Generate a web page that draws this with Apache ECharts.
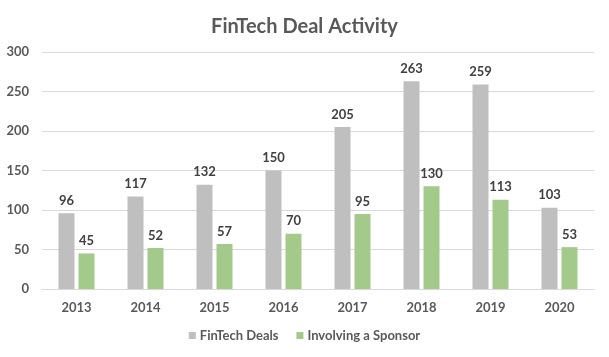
<!DOCTYPE html>
<html><head><meta charset="utf-8">
<script src="https://cdn.jsdelivr.net/npm/echarts@6/dist/echarts.min.js"></script>
<style>html,body{margin:0;padding:0;background:#fff}#c{width:609px;height:357px}</style>
</head><body><div id="c"></div>
<script>
const categories = ['2013','2014','2015','2016','2017','2018','2019','2020'];
const fintechDeals = [96,117,132,150,205,263,259,103];
const involvingSponsor = [45,52,57,70,95,130,113,53];
const seriesNames = ['FinTech Deals','Involving a Sponsor'];

const font = 'Lato, "Open Sans", sans-serif';
const chart = echarts.init(document.getElementById('c'));
const lbl = {show:true, position:'top', distance:6, color:'#404040', fontWeight:'bold', fontSize:13, fontFamily:font};
chart.setOption({
  animation:false,
  title:{text:'FinTech Deal Activity', left:'center', top:12,
    textStyle:{color:'#595959', fontSize:20, fontWeight:'bold', fontFamily:font}},
  legend:{bottom:10, left:'center', itemWidth:7, itemHeight:7, itemGap:18, icon:'rect',
    textStyle:{color:'#595959', fontSize:13, fontFamily:font, fontWeight:'bold', padding:[0,0,0,-1]}},
  grid:{left:42, right:15, top:52, bottom:68, containLabel:false},
  xAxis:{type:'category', data:categories,
    axisLine:{lineStyle:{color:'#d9d9d9'}}, axisTick:{show:false},
    axisLabel:{color:'#595959', fontSize:13, fontWeight:'bold', fontFamily:font, margin:12}},
  yAxis:{type:'value', min:0, max:300, interval:50,
    axisLine:{show:false}, axisTick:{show:false},
    splitLine:{lineStyle:{color:'#d9d9d9'}},
    axisLabel:{color:'#595959', fontSize:13, fontWeight:'bold', fontFamily:font, margin:13, align:'right'}},
  series:[
    {name:seriesNames[0], type:'bar', data:fintechDeals, barWidth:16, barGap:'25%',
     itemStyle:{color:'#bfbfbf'}, label:lbl},
    {name:seriesNames[1], type:'bar', data:involvingSponsor, barWidth:16,
     itemStyle:{color:'#a3c98b'}, label:lbl}
  ]
});
</script></body></html>
